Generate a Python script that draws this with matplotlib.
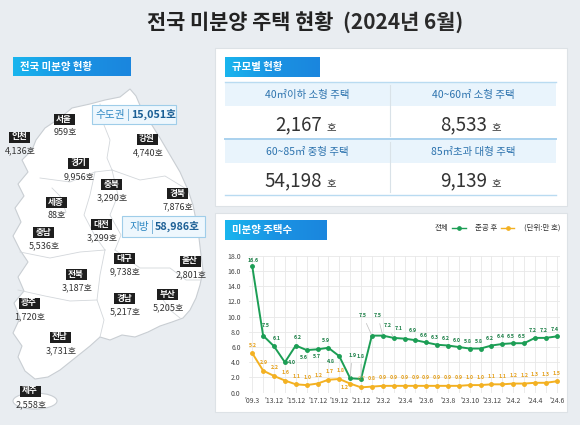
"""Unsold housing status infographic (June 2024)."""

import numpy as np
import matplotlib.pyplot as plt
from matplotlib.patches import Rectangle, Polygon, Ellipse

plt.rcParams['font.family'] = ['Noto Sans CJK KR', 'DejaVu Sans']

W, H = 580, 425
BG = '#e9edf1'
GREEN = '#1c9e55'
ORANGE = '#f3b122'

TITLE_MAIN = '전국 미분양 주택 현황'
TITLE_DATE = '(2024년 6월)'

# regional unsold units (호)
REGIONS = ['서울', '인천', '강원', '경기', '충북', '경북', '세종', '대전', '충남',
           '대구', '울산', '전북', '경남', '부산', '광주', '전남', '제주']
REGION_UNITS = [959, 4136, 4740, 9956, 3290, 7876, 88, 3299, 5536,
                9738, 2801, 3187, 5217, 5205, 1720, 3731, 2558]
CAPITAL_TOTAL = 15051
LOCAL_TOTAL = 58986

# by dwelling size
SIZE_CLASSES = ['40㎡이하 소형 주택', '40~60㎡ 소형 주택',
                '60~85㎡ 중형 주택', '85㎡초과 대형 주택']
SIZE_UNITS = [2167, 8533, 54198, 9139]

# time series (만 호)
PERIODS = ["'09.3", "'12.12", "'13.12", "'14.12", "'15.12", "'16.12", "'17.12",
           "'18.12", "'19.12", "'20.12", "'21.12", "'23.1", "'23.2", "'23.3",
           "'23.4", "'23.5", "'23.6", "'23.7", "'23.8", "'23.9", "'23.10",
           "'23.11", "'23.12", "'24.1", "'24.2", "'24.3", "'24.4", "'24.5", "'24.6"]
TOTAL = [16.6, 7.5, 6.1, 4.0, 6.2, 5.6, 5.7, 5.9, 4.8, 1.9, 1.8, 7.5, 7.5, 7.2,
         7.1, 6.9, 6.6, 6.3, 6.2, 6.0, 5.8, 5.8, 6.2, 6.4, 6.5, 6.5, 7.2, 7.2, 7.4]
COMPLETED = [5.2, 2.9, 2.2, 1.6, 1.1, 1.0, 1.2, 1.7, 1.8, 1.2, 0.7, 0.8, 0.9, 0.9,
             0.9, 0.9, 0.9, 0.9, 0.9, 0.9, 1.0, 1.0, 1.1, 1.1, 1.2, 1.2, 1.3, 1.3, 1.5]

# layout (pixel positions of map labels: box centre)
REGION_POS = [(64, 119), (19, 137), (147, 139), (78, 163), (111, 184), (177, 193),
              (56, 202), (101, 224), (43, 232), (124, 258), (190, 261), (76, 274),
              (124, 298), (167, 294), (29, 303), (60, 337), (30, 391)]

MAP_OUTLINE = [
    (36, 140), (45, 128), (60, 118), (72, 108), (90, 104), (105, 100), (120, 97),
    (130, 89), (136, 96), (142, 110), (150, 122), (160, 138), (170, 155),
    (180, 172), (188, 190), (193, 205), (196, 220), (199, 238), (201, 255),
    (203, 270), (200, 285), (196, 298), (190, 310), (183, 318), (172, 322),
    (160, 326), (148, 332), (135, 337), (122, 335), (110, 340), (100, 337),
    (90, 346), (80, 354), (70, 362), (60, 370), (48, 377), (35, 379), (25, 371),
    (18, 357), (22, 346), (13, 333), (20, 318), (14, 303), (24, 291), (18, 277),
    (28, 262), (20, 250), (13, 236), (21, 222), (15, 208), (24, 196), (18, 184),
    (28, 172), (22, 160), (32, 150),
]
MAP_BORDERS = [
    [(100, 104), (104, 125), (110, 140), (107, 158), (112, 170)],
    [(40, 178), (70, 182), (95, 172), (112, 170)],
    [(95, 172), (90, 195), (84, 215), (95, 236), (105, 250)],
    [(112, 170), (140, 180), (165, 176), (188, 190)],
    [(112, 170), (118, 195), (110, 215), (121, 235), (115, 250)],
    [(20, 252), (50, 258), (80, 252), (105, 250)],
    [(105, 250), (100, 275), (97, 300), (104, 320), (100, 337)],
    [(18, 290), (45, 296), (70, 301), (97, 300)],
    [(115, 250), (140, 268), (170, 268), (186, 280), (201, 280)],
    [(158, 292), (170, 310), (180, 318)],
    [(52, 188), (60, 196), (66, 212), (58, 218), (50, 210)],
]

GREEN_OFFS = ([(1, -6), (3, -10), (3, -8), (7, 0), (2, -8), (-3, 7), (-1, 7),
               (-2, -7), (-8, 5), (2, -23), (0, -23), (-9, -20), (-5, -20),
               (-6, -12), (-6, -10), (-3, -10)] + [(-2, -7)] * 13)
ORANGE_OFFS = [(1, -8)] * 9 + [(-6, 4), (1, -9)] + [(0, -8)] * 18
LEADERS = [9, 10, 11, 12, 13]


def blue_tag(ax, x0, y0, x1, y1, text):
    grad = np.linspace(0, 1, 64).reshape(1, -1)
    cmap = plt.matplotlib.colors.LinearSegmentedColormap.from_list(
        'tag', ['#19b5ee', '#1a93e3', '#1b86de'])
    ax.imshow(grad, cmap=cmap, extent=(x0, x1, y1, y0), aspect='auto', zorder=2)
    ax.text(x0 + 7, (y0 + y1) / 2, text, color='white', fontsize=7.5,
            fontweight='bold', ha='left', va='center', zorder=3)


def total_box(ax, x0, y0, x1, y1, label, value, sep_x):
    ax.add_patch(Rectangle((x0, y0), x1 - x0, y1 - y0, facecolor='#eef7fd',
                           edgecolor='#9fcde9', lw=0.8, zorder=4))
    yc = (y0 + y1) / 2
    ax.text(sep_x - 3, yc, label, color='#2f88c3', fontsize=7.7,
            ha='right', va='center', zorder=5)
    ax.plot([sep_x, sep_x], [y0 + 4, y1 - 4], color='#7fb6da', lw=0.7, zorder=5)
    ax.text(sep_x + 3, yc, f'{value:,}호', color='#1b5f95', fontsize=7.7,
            fontweight='bold', ha='left', va='center', zorder=5)


def main():
    fig = plt.figure(figsize=(W / 100, H / 100), dpi=100)
    fig.patch.set_facecolor(BG)
    bg = fig.add_axes([0, 0, 1, 1])
    bg.set_xlim(0, W)
    bg.set_ylim(H, 0)
    bg.axis('off')

    bg.text(333, 22, TITLE_MAIN, fontsize=15, fontweight='bold', color='#222222',
            ha='right', va='center')
    bg.text(343, 22, TITLE_DATE, fontsize=15, fontweight='bold', color='#2a2a2a',
            ha='left', va='center')

    # ---- left: map ----
    blue_tag(bg, 13, 57, 131, 76, '전국 미분양 현황')
    bg.add_patch(Polygon(MAP_OUTLINE, closed=True, facecolor='white',
                         edgecolor='#c9ced3', lw=0.8, zorder=1))
    bg.add_patch(Ellipse((35, 401), 44, 16, facecolor='white',
                         edgecolor='#c9ced3', lw=0.8, zorder=1))
    for line in MAP_BORDERS:
        xs, ys = zip(*line)
        bg.plot(xs, ys, color='#d3d7db', lw=0.6, zorder=1)

    for name, units, (cx, cy) in zip(REGIONS, REGION_UNITS, REGION_POS):
        bg.add_patch(Rectangle((cx - 10.5, cy - 5.5), 21, 11,
                               facecolor='#1e1e1e', edgecolor='none', zorder=3))
        bg.text(cx, cy, name, color='white', fontsize=6.2, fontweight='bold',
                ha='center', va='center', zorder=4)
        bg.text(cx + 1, cy + 13.5, f'{units:,}호', color='#333333', fontsize=6.5,
                ha='center', va='center', zorder=4)

    total_box(bg, 92, 105, 176, 124, '수도권', CAPITAL_TOTAL, 128)
    total_box(bg, 122, 216, 205, 237, '지방', LOCAL_TOTAL, 152)

    # ---- right top: size table ----
    bg.add_patch(Rectangle((215, 48), 352, 158, facecolor='white',
                           edgecolor='#dde2e6', lw=0.8, zorder=1))
    blue_tag(bg, 225, 57, 320, 77, '규모별 현황')
    col_cx = [307.5, 473]
    head_y = [(83, 106), (140, 163)]
    val_base = [130, 186]
    for r in range(2):
        y0, y1 = head_y[r]
        bg.add_patch(Rectangle((225, y0), 331, y1 - y0, facecolor='#e9f4fc',
                               edgecolor='none', zorder=2))
        bg.plot([390, 390], [y0 + 2, val_base[r] + 6], color='#d9e2e8',
                lw=0.8, zorder=3)
        for c in range(2):
            i = r * 2 + c
            cx = col_cx[c]
            bg.text(cx, (y0 + y1) / 2, SIZE_CLASSES[i], color='#2d73ae',
                    fontsize=7.5, ha='center', va='center', zorder=3)
            bg.text(cx + 14, val_base[r], f'{SIZE_UNITS[i]:,}', color='#333333',
                    fontsize=13.5, ha='right', va='baseline', zorder=3)
            bg.text(cx + 19, val_base[r], '호', color='#333333', fontsize=7.5,
                    ha='left', va='baseline', zorder=3)
    for y, c, lw in [(82, '#b9dbf1', 1.0), (138.5, '#a9d1ee', 1.4),
                     (195, '#b9dbf1', 1.0)]:
        bg.plot([225, 556], [y, y], color=c, lw=lw, zorder=3)

    # ---- right bottom: line chart ----
    bg.add_patch(Rectangle((215, 213), 352, 199, facecolor='white',
                           edgecolor='#dde2e6', lw=0.8, zorder=1))
    blue_tag(bg, 225, 220, 327, 240, '미분양 주택수')

    bg.text(448, 228, '전체', fontsize=5.4, color='#333333', ha='right', va='center')
    bg.plot([452, 466], [228, 228], color=GREEN, lw=1.0)
    bg.plot([459], [228], marker='o', ms=2.4, color=GREEN)
    bg.text(497, 228, '준공 후', fontsize=5.4, color='#333333', ha='right', va='center')
    bg.plot([501, 514], [228, 228], color=ORANGE, lw=1.0)
    bg.plot([507.5], [228], marker='o', ms=2.4, color=ORANGE)
    bg.text(560, 228, '(단위:만 호)', fontsize=5.4, color='#333333',
            ha='right', va='center')

    ax = fig.add_axes([249 / W, 1 - 392.7 / H, (560 - 249) / W, (392.7 - 255.7) / H])
    ax.set_facecolor('white')
    x = np.arange(len(PERIODS))
    ax.set_xlim(-0.3, len(PERIODS) - 0.7)
    ax.set_ylim(0, 18)
    ax.set_yticks(np.arange(0, 18.1, 2))
    ax.set_yticklabels([f'{v:.1f}' for v in np.arange(0, 18.1, 2)])
    ax.set_xticks(x)
    ax.set_xticklabels([p if i % 2 == 0 else '' for i, p in enumerate(PERIODS)])
    ax.tick_params(length=0, labelsize=5, labelcolor='#444444')
    ax.tick_params(axis='y', pad=6)
    ax.tick_params(axis='x', pad=3)
    ax.grid(True, color='#e8e8e8', lw=0.6)
    ax.set_axisbelow(True)
    for s in ax.spines.values():
        s.set_visible(False)
    ax.axhline(0, color='#d0d0d0', lw=0.7, zorder=1)

    ax.plot(x, TOTAL, color=GREEN, lw=1.4, marker='o', ms=2.5, zorder=4)
    ax.plot(x, COMPLETED, color=ORANGE, lw=1.4, marker='o', ms=2.5, zorder=3)

    for i, v in enumerate(TOTAL):
        dx, dy = GREEN_OFFS[i]
        props = None
        if i in LEADERS:
            props = dict(arrowstyle='-', color='#bdbdbd', lw=0.5,
                         shrinkA=2, shrinkB=1)
        ax.annotate(f'{v:.1f}', (i, v), xytext=(dx * 0.72, -dy * 0.72),
                    textcoords='offset points', ha='center', va='center',
                    fontsize=3.8, color='#1b7f46', fontweight='bold',
                    arrowprops=props, zorder=6, annotation_clip=False)
    for i, v in enumerate(COMPLETED):
        dx, dy = ORANGE_OFFS[i]
        ax.annotate(f'{v:.1f}', (i, v), xytext=(dx * 0.72, -dy * 0.72),
                    textcoords='offset points', ha='center', va='center',
                    fontsize=3.8, color='#e5a01a', fontweight='bold',
                    alpha=0.5 if i == 10 else 1.0, zorder=5)

    fig.savefig('out.png', dpi=100, facecolor=BG)


if __name__ == '__main__':
    main()
